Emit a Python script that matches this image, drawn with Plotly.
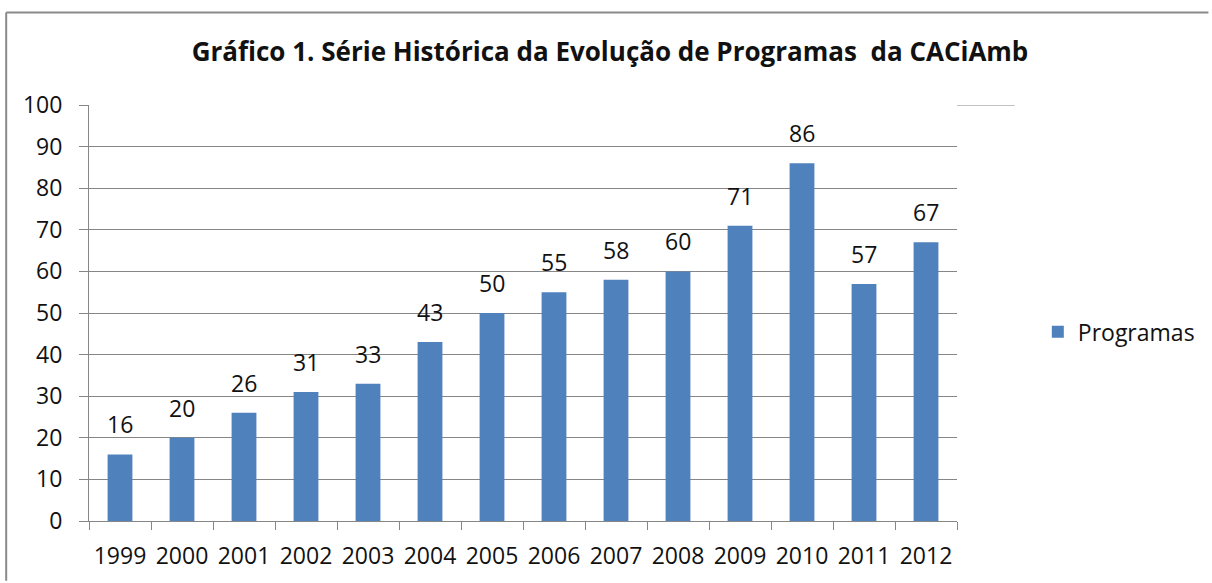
import plotly.graph_objects as go

years = ["1999", "2000", "2001", "2002", "2003", "2004", "2005",
         "2006", "2007", "2008", "2009", "2010", "2011", "2012"]
programas = [16, 20, 26, 31, 33, 43, 50, 55, 58, 60, 71, 86, 57, 67]
series_name = "Programas"
title_text = "Gráfico 1. Série Histórica da Evolução de Programas  da CACiAmb"

W, H = 1212, 583
L, R, T, B = 89, 959, 105, 523  # plot-area pixel box

def px_x(p):
    return (p - L) / (R - L)

def px_y(p):
    return (B - p) / (B - T)

FONT = "Open Sans"
GRID = "#868686"
BAR = "#4F81BD"
TXT = "#111111"

fig = go.Figure()
fig.add_trace(go.Bar(
    x=years, y=programas, name=series_name,
    marker=dict(color=BAR, line=dict(width=0)),
    showlegend=True,
))

for i, v in enumerate(programas):
    fig.add_annotation(x=i, y=v, text=str(v), showarrow=False,
                       xref="x", yref="y",
                       yanchor="bottom", yshift=12,
                       font=dict(family=FONT, size=23, color=TXT))

shapes = [
    dict(type="line", xref="paper", yref="paper",
         x0=px_x(6), x1=px_x(1211), y0=px_y(12), y1=px_y(12),
         line=dict(color="#8a8a8a", width=2)),
    dict(type="line", xref="paper", yref="paper",
         x0=px_x(6), x1=px_x(6), y0=px_y(12), y1=px_y(583),
         line=dict(color="#8a8a8a", width=2)),
    dict(type="line", xref="paper", yref="y",
         x0=1.0, x1=px_x(1017), y0=100, y1=100,
         line=dict(color=GRID, width=1)),
]

fig.update_layout(
    width=W, height=H,
    margin=dict(l=L, r=W - R, t=T, b=H - B),
    paper_bgcolor="white", plot_bgcolor="white",
    font=dict(family=FONT, size=23, color=TXT),
    title=dict(text="<b>" + title_text + "</b>", x=610 / W, xanchor="center",
               y=1 - 52 / H, yanchor="middle", yref="container",
               font=dict(family=FONT, size=26, color=TXT)),
    bargap=0.6,
    shapes=shapes,
    legend=dict(x=px_x(1040), y=px_y(333), xanchor="left", yanchor="middle",
                xref="paper", yref="paper",
                font=dict(family=FONT, size=23, color=TXT),
                bgcolor="rgba(0,0,0,0)"),
    xaxis=dict(type="category", range=[-0.5, len(years) - 0.5],
               showline=True, linecolor=GRID, linewidth=1,
               ticks="outside", tickson="boundaries", ticklen=8, tickcolor=GRID,
               showgrid=False, ticklabelstandoff=14, tickangle=0,
               tickfont=dict(family=FONT, size=23, color=TXT)),
    yaxis=dict(range=[0, 100], dtick=10, showline=True, linecolor=GRID,
               linewidth=1, ticks="outside", ticklen=9, tickcolor=GRID,
               showgrid=True, gridcolor=GRID, gridwidth=1, zeroline=False,
               ticklabelstandoff=12,
               tickfont=dict(family=FONT, size=23, color=TXT)),
)

fig.write_html("out.html",
               config={"displayModeBar": False},
               post_script="document.body.style.margin='0';"
                           "document.body.style.overflow='hidden';")
